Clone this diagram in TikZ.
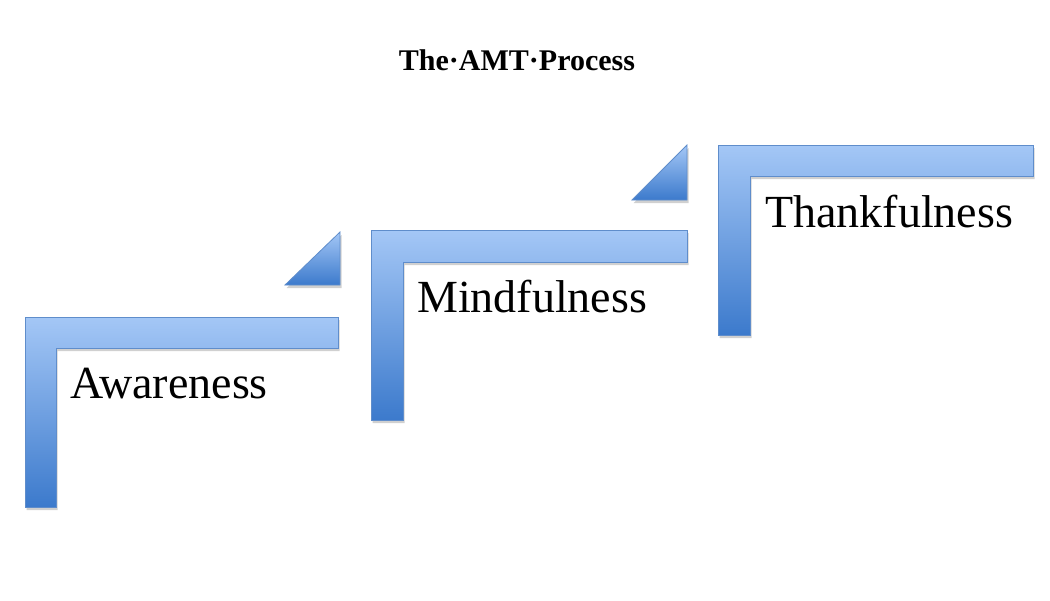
\documentclass[tikz,border=0pt]{standalone}
\usepackage{fontspec}
\setmainfont{Liberation Serif}
\usetikzlibrary{shadows}
\definecolor{stepTop}{HTML}{A4C7F6}
\definecolor{stepBot}{HTML}{3C7ACC}
\definecolor{stepLine}{HTML}{5F8DCB}
\tikzset{
  stepshape/.style={draw=stepLine, line width=0.8pt, top color=stepTop, bottom color=stepBot,
    drop shadow={shadow xshift=1.5pt, shadow yshift=-3pt, opacity=0.3, fill=black!60}},
  steplabel/.style={anchor=base west, inner sep=0pt, font=\fontsize{46}{55}\selectfont},
}
\begin{document}
\begin{tikzpicture}[x=1pt,y=-1pt]
\useasboundingbox[fill=white] (0,0) rectangle (1050,600);
\node[anchor=base, inner sep=0pt, font=\bfseries\fontsize{30}{36}\selectfont] (title) at (517,70) {The·AMT·Process};
% step 1
\path[stepshape] (25,317) -- (338,317) -- (338,348) -- (56,348) -- (56,507) -- (25,507) -- cycle;
\path[stepshape] (285,285) -- (340,232) -- (340,285) -- cycle;
\node[steplabel] (aw) at (70,398) {Awareness};
% step 2
\path[stepshape] (371,230) -- (687,230) -- (687,262) -- (403,262) -- (403,420) -- (371,420) -- cycle;
\path[stepshape] (632,200) -- (687,145) -- (687,200) -- cycle;
\node[steplabel] (mi) at (417,312) {Mindfulness};
% step 3
\path[stepshape] (718,145) -- (1033,145) -- (1033,176) -- (750,176) -- (750,335) -- (718,335) -- cycle;
\node[steplabel] (th) at (765,227) {Thankfulness};
\end{tikzpicture}
\end{document}
